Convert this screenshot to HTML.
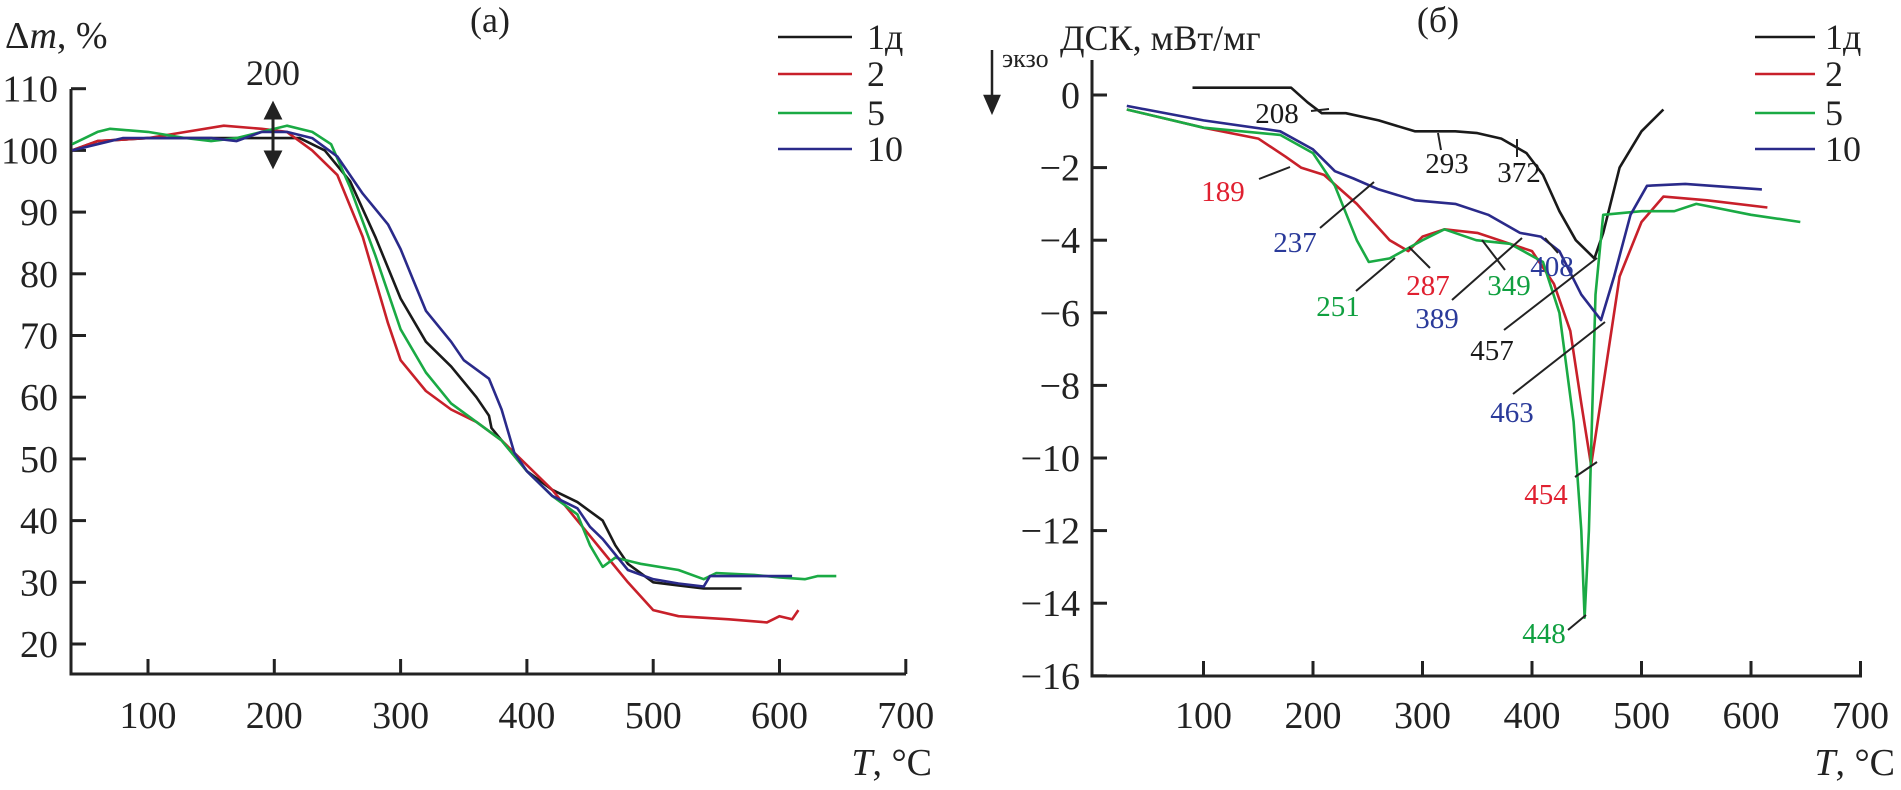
<!DOCTYPE html>
<html><head><meta charset="utf-8"><style>
html,body{margin:0;padding:0;background:#fff}
svg{display:block;font-family:"Liberation Serif",serif}
</style></head><body>
<svg id="c" width="1901" height="790" viewBox="0 0 1901 790">
<g id="L"></g>
<g id="R"></g>
</svg>
<script>
const NS="http://www.w3.org/2000/svg";
// ---- TGA (a) data ----
const tgaX1=[40,60,100,220,240,260,280,300,320,340,360,370,372,380,400,420,440,460,470,480,500,520,540,570];
const tgaY1=[100,101.5,102,102,100,95,86,76,69,65,60,57,55,53,48,45,43,40,36,33,30,29.5,29,29];
const tgaX2=[40,60,100,130,160,190,210,230,250,270,290,300,320,340,360,380,400,420,440,460,480,500,520,560,590,600,610,615];
const tgaY2=[100,101.5,102,103,104,103.5,103,100,96,86,72,66,61,58,56,53,49,45,40,35,30,25.5,24.5,24,23.5,24.5,24,25.5];
const tgaX5=[40,50,60,70,100,130,150,170,190,210,230,245,260,280,300,320,340,360,380,400,420,440,450,460,470,490,520,540,550,580,600,620,630,645];
const tgaY5=[101,102,103,103.5,103,102,101.5,102,103,104,103,101,94,83,71,64,59,56,53,48,44,41,36,32.5,34,33,32,30.5,31.5,31.2,30.8,30.5,31,31];
const tgaX10=[40,60,80,100,150,170,190,210,230,250,270,290,300,310,320,340,350,370,380,390,400,420,440,450,460,470,480,500,520,540,545,600,610];
const tgaY10=[100,101,102,102,102,101.5,103,103,102,99,93,88,84,79,74,69,66,63,58,51,48,44,42,39,37,34.5,32,30.5,29.8,29.3,31,31,31];
const tgaXTicks=[100,200,300,400,500,600,700];
const tgaYTicks=[20,30,40,50,60,70,80,90,100,110];
// ---- DSC (б) data ----
const dscX1=[90,180,195,208,230,260,293,330,350,372,395,410,425,440,457,465,480,500,520];
const dscY1=[0.2,0.2,-0.2,-0.5,-0.5,-0.7,-1.0,-1.0,-1.05,-1.2,-1.6,-2.2,-3.2,-4.0,-4.5,-3.8,-2.0,-1.0,-0.4];
const dscX2=[30,100,150,175,189,210,240,270,287,300,320,350,380,400,420,435,445,454,465,480,500,520,560,615];
const dscY2=[-0.4,-0.9,-1.2,-1.7,-2.0,-2.2,-3.0,-4.0,-4.3,-3.9,-3.7,-3.8,-4.1,-4.3,-5.2,-6.5,-8.5,-10.2,-8,-5,-3.5,-2.8,-2.9,-3.1];
const dscX5=[30,100,170,200,220,240,251,270,300,320,349,380,410,425,438,445,448,452,458,465,500,530,550,600,645];
const dscY5=[-0.4,-0.9,-1.1,-1.6,-2.5,-4.0,-4.6,-4.5,-4.0,-3.7,-4.0,-4.1,-4.6,-6,-9,-12,-14.4,-12,-5.5,-3.3,-3.2,-3.2,-3.0,-3.3,-3.5];
const dscX10=[30,100,170,200,220,237,260,293,330,360,389,408,425,445,463,475,490,505,540,610];
const dscY10=[-0.3,-0.7,-1.0,-1.5,-2.1,-2.3,-2.6,-2.9,-3.0,-3.3,-3.8,-3.9,-4.3,-5.5,-6.2,-5,-3.3,-2.5,-2.45,-2.6];
const dscXTicks=[100,200,300,400,500,600,700];
const dscYTicks=[0,-2,-4,-6,-8,-10,-12,-14,-16];
const colors={k:"#1a1a1a",r:"#c8202a",g:"#1aaa44",b:"#2a2a8a"};

function el(p,tag,a,txt){const e=document.createElementNS(NS,tag);for(const k in a)e.setAttribute(k,a[k]);if(txt!==undefined)e.textContent=txt;p.appendChild(e);return e;}

const lx=v=>148+(v-100)*1.263, ly=v=>644-(v-20)*6.17;
const rx=v=>1094+v*1.095, ry=v=>95-v*36.3;

const L=document.getElementById('L'), R=document.getElementById('R');
let a=el(L,'path',{d:`M71 89 V674 H906`,fill:'none',stroke:'#222','stroke-width':3});

tgaXTicks.forEach(v=>{let t=el(L,'line',{x1:lx(v),x2:lx(v),y1:674,y2:659,stroke:'#222','stroke-width':3});

let s=el(L,'text',{x:lx(v),y:728,'font-size':38,'text-anchor':'middle',fill:'#222'},v);
});
tgaYTicks.forEach(v=>{let t=el(L,'line',{x1:71,x2:86,y1:ly(v),y2:ly(v),stroke:'#222','stroke-width':3});

let s=el(L,'text',{x:58,y:ly(v)+13,'font-size':38,'text-anchor':'end',fill:'#222'},v);
});
a=el(R,'path',{d:`M1092 60 V676 H1862`,fill:'none',stroke:'#222','stroke-width':3});

dscXTicks.forEach(v=>{let t=el(R,'line',{x1:rx(v),x2:rx(v),y1:676,y2:661,stroke:'#222','stroke-width':3});

let s=el(R,'text',{x:rx(v),y:728,'font-size':38,'text-anchor':'middle',fill:'#222'},v);
});
dscYTicks.forEach(v=>{let t=el(R,'line',{x1:1092,x2:1107,y1:ry(v),y2:ry(v),stroke:'#222','stroke-width':3});

let s=el(R,'text',{x:1080,y:ry(v)+13,'font-size':38,'text-anchor':'end',fill:'#222'},v===0?'0':'\u2212'+(-v));
});

function series(p,xs,ys,fx,fy,c,name){
  const d=xs.map((x,i)=>(i?'L':'M')+fx(x).toFixed(1)+' '+fy(ys[i]).toFixed(1)).join(' ');
  const e=el(p,'path',{d,fill:'none',stroke:c,'stroke-width':2.6,'stroke-linejoin':'round'});
  
  
}
series(L,tgaX1,tgaY1,lx,ly,colors.k,'tga-line-1d');
series(L,tgaX2,tgaY2,lx,ly,colors.r,'tga-line-2');
series(L,tgaX5,tgaY5,lx,ly,colors.g,'tga-line-5');
series(L,tgaX10,tgaY10,lx,ly,colors.b,'tga-line-10');
series(R,dscX1,dscY1,rx,ry,colors.k,'dsc-line-1d');
series(R,dscX2,dscY2,rx,ry,colors.r,'dsc-line-2');
series(R,dscX5,dscY5,rx,ry,colors.g,'dsc-line-5');
series(R,dscX10,dscY10,rx,ry,colors.b,'dsc-line-10');

const legNames=['1д','2','5','10'], legCols=[colors.k,colors.r,colors.g,colors.b], legY=[37,74,113,149];
[[L,778,852,867],[R,1755,1815,1825]].forEach(([p,x1,x2,tx])=>{
  legNames.forEach((n,i)=>{
    let l=el(p,'line',{x1,x2,y1:legY[i],y2:legY[i],stroke:legCols[i],'stroke-width':2.6});
    
    let t=el(p,'text',{x:tx,y:legY[i]+12,'font-size':36,fill:'#222'},n);
    
  });
});

const ann=[["208",1277,113,1311,111,1329,109,colors.k],["293",1447,163,1441,150,1438,133,colors.k],["372",1519,172,1517,157,1517,139,colors.k],
["189",1223,191,1259,179,1290,167,"#e02030"],["237",1295,242,1320,228,1374,182,"#2a3a9a"],["251",1338,306,1356,291,1395,258,"#10a040"],
["287",1428,285,1430,268,1409,247,"#e02030"],["389",1437,318,1452,300,1522,238,"#2a3a9a"],["349",1509,285,1505,270,1482,240,"#10a040"],
["408",1552,266,1558,253,1545,238,"#2a3a9a"],["457",1492,350,1504,330,1597,258,colors.k],["463",1512,412,1513,394,1605,322,"#2a3a9a"],
["454",1546,494,1575,477,1597,462,"#e02030"],["448",1544,633,1568,630,1586,615,"#10a040"]];
ann.forEach(([t,x,y,x1,y1,x2,y2,c])=>{
  let l=el(R,'line',{x1,y1,x2,y2,stroke:'#222','stroke-width':2});
  
  let s=el(R,'text',{x,y:y+10,'font-size':29,'text-anchor':'middle',fill:c},t);
  
});
</script>
<script>
const S=document.getElementById('c');
function tx(x,y,fs,html,anchor,name){const e=document.createElementNS(NS,'text');e.setAttribute('x',x);e.setAttribute('y',y);e.setAttribute('font-size',fs);e.setAttribute('fill','#222');if(anchor)e.setAttribute('text-anchor',anchor);e.innerHTML=html;


S.appendChild(e);}
tx(5,48,38,'Δ<tspan font-style="italic">m</tspan>, %',null,'y-axis-title-left');
tx(490,32,36,'(а)','middle','panel-label-a');
tx(1438,32,36,'(б)','middle','panel-label-b');
tx(932,775,38,'<tspan font-style="italic">T</tspan>, °C','end','x-axis-title-left');
tx(1895,775,38,'<tspan font-style="italic">T</tspan>, °C','end','x-axis-title-right');
tx(1060,50,36,'ДСК, мВт/мг',null,'y-axis-title-right');
tx(1002,67,26,'экзо',null,'exo-label');
tx(273,85,36,'200','middle','temp-200-label');
const arr=document.createElementNS(NS,'path');
arr.setAttribute('d','M273 112 V158 M273 104 L266 118 L280 118 Z M273 166 L266 152 L280 152 Z');
arr.setAttribute('stroke','#222');arr.setAttribute('stroke-width','3');arr.setAttribute('fill','#222');


S.appendChild(arr);
const ex=document.createElementNS(NS,'path');
ex.setAttribute('d','M992 50 V100 M992 112 L985 96 L999 96 Z');
ex.setAttribute('stroke','#222');ex.setAttribute('stroke-width','2.5');ex.setAttribute('fill','#222');


S.appendChild(ex);
</script>
</body></html>
